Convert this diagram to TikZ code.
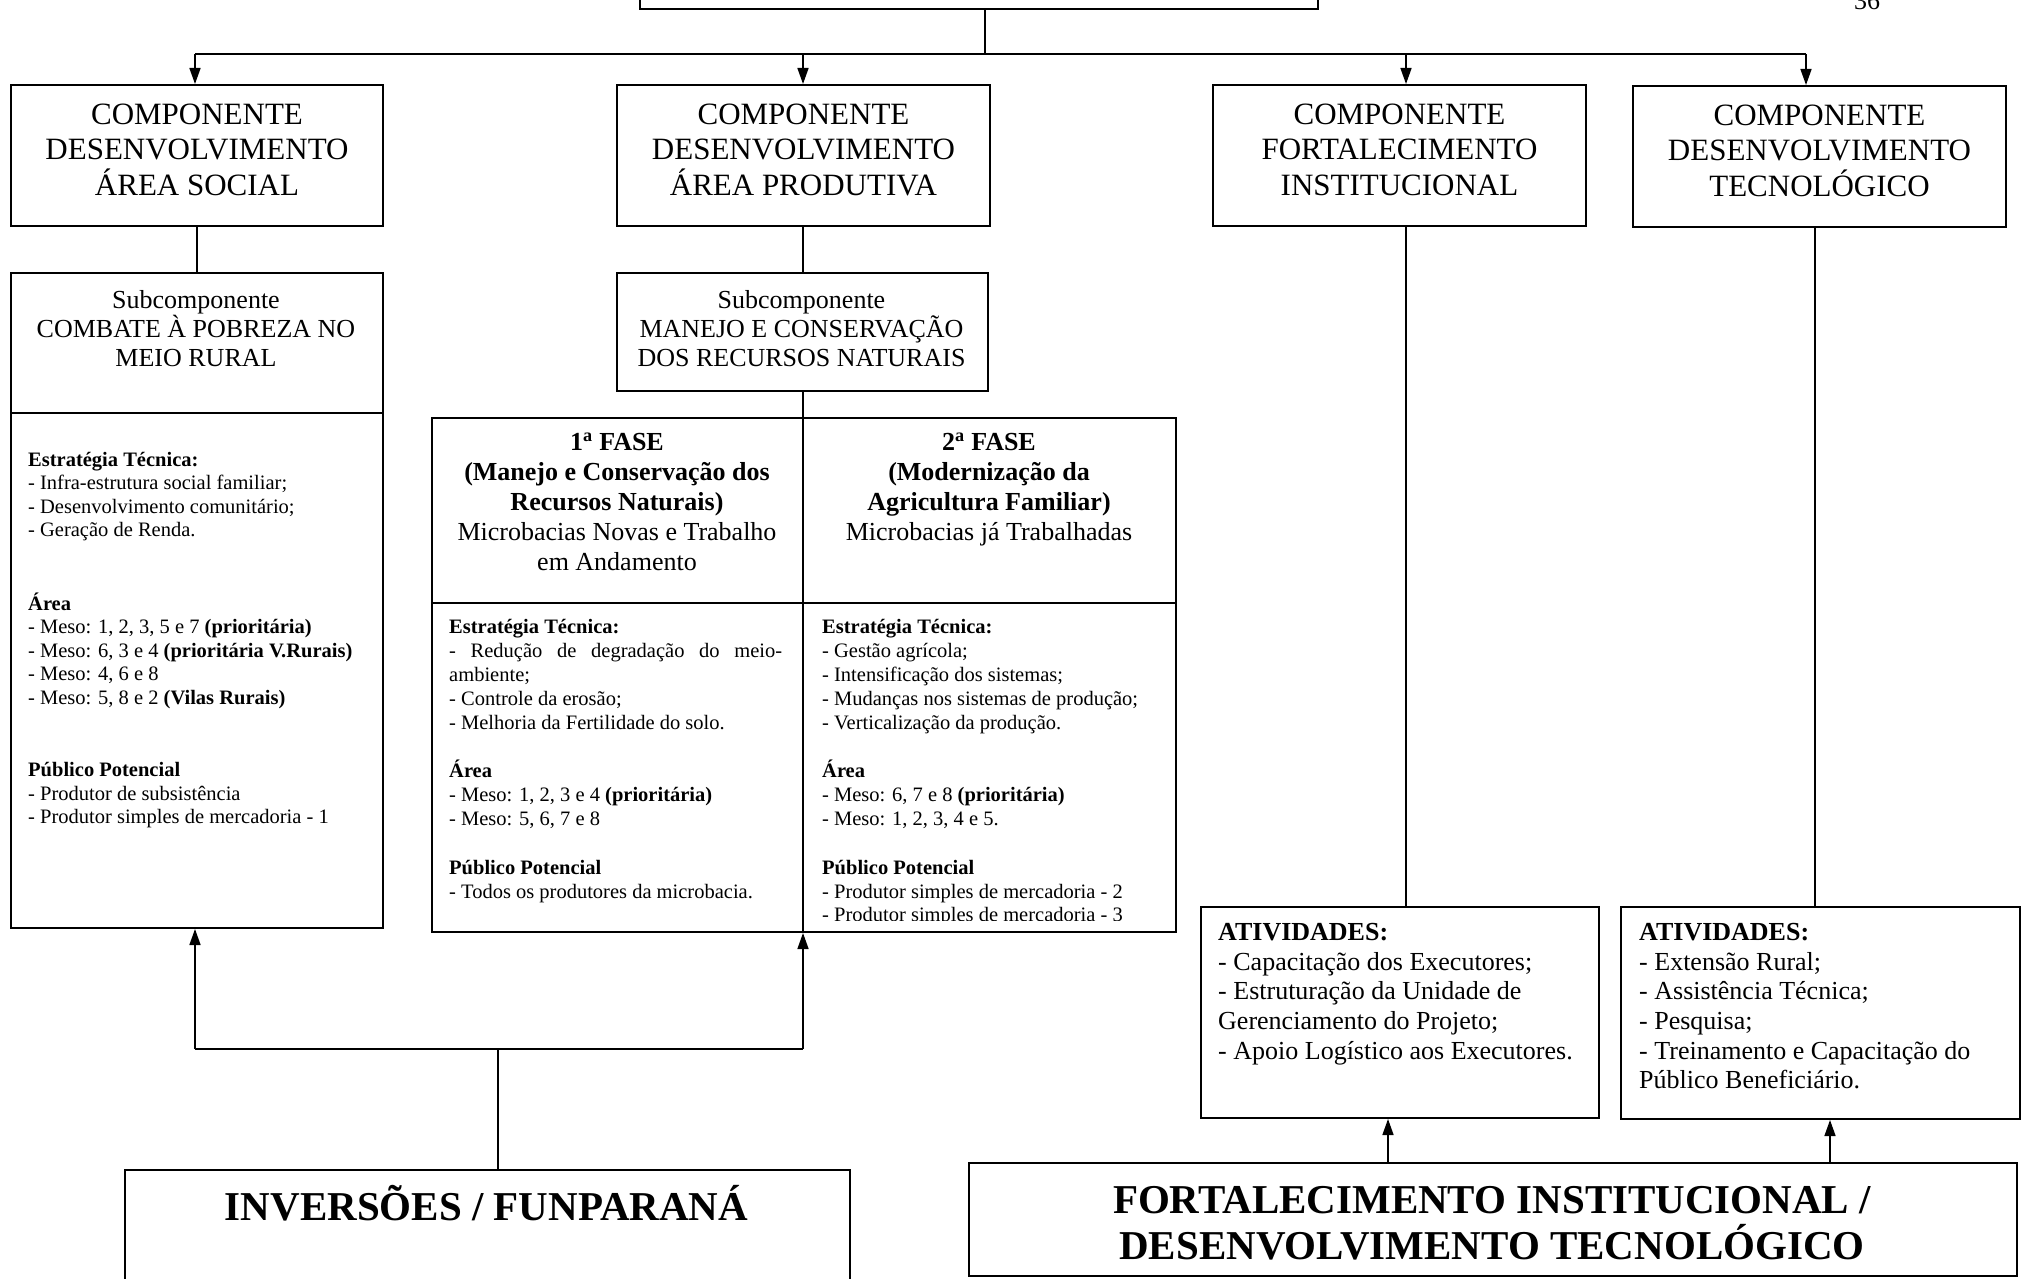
\documentclass[tikz,border=0pt]{standalone}
\usepackage{fontspec}
\setmainfont{Liberation Serif}
\usetikzlibrary{arrows.meta}
\newcommand{\fcomp}{\fontsize{31}{35.5}\selectfont}
\newcommand{\fsubc}{\fontsize{26}{29}\selectfont}
\newcommand{\fsmall}{\fontsize{20.5}{23.5}\selectfont}
\newcommand{\fsmallb}{\fontsize{20.5}{23.9}\selectfont}
\newcommand{\fphase}{\fontsize{26}{30}\selectfont}
\newcommand{\fativ}{\fontsize{26}{29.7}\selectfont}
\newcommand{\fbig}{\fontsize{41}{46.6}\selectfont\bfseries}
\tikzset{
  box/.style={draw, line width=2pt, inner sep=0pt, anchor=north west},
  conn/.style={draw, line width=1.5pt},
  arr/.style={conn, -{Triangle[width=11pt,length=16pt]}},
  txt/.style={inner sep=0pt},
}
\begin{document}
\begin{tikzpicture}[x=1pt,y=-1pt]
\useasboundingbox (0,0) rectangle (2024,1279);
% boxes
\node[box, minimum width=678pt, minimum height=48pt] (top) at (639,-40) {};
\node[box, minimum width=372pt, minimum height=141pt] (c1) at (10,84) {};
\node[box, minimum width=373pt, minimum height=141pt] (c2) at (616,84) {};
\node[box, minimum width=373pt, minimum height=141pt] (c3) at (1212,84) {};
\node[box, minimum width=373pt, minimum height=141pt] (c4) at (1632,85) {};
\node[box, minimum width=372pt, minimum height=655pt] (s1) at (10,272) {};
\node[box, minimum width=371pt, minimum height=118pt] (s2) at (616,272) {};
\node[box, minimum width=744pt, minimum height=514pt] (ph) at (431,417) {};
\node[box, minimum width=398pt, minimum height=211pt] (a1) at (1200,906) {};
\node[box, minimum width=399pt, minimum height=212pt] (a2) at (1620,906) {};
\node[box, minimum width=725pt, minimum height=200pt] (inv) at (124,1169) {};
\node[box, minimum width=1048pt, minimum height=113pt] (fi) at (968,1162) {};
% dividers
\coordinate (pv) at (803,0);
\coordinate (h1) at (0,413);
\coordinate (h2) at (0,603);
\draw[line width=2pt] (s1.west |- h1) -- (s1.east |- h1);
\draw[line width=2pt] (ph.west |- h2) -- (ph.east |- h2);
\draw[line width=2pt] (pv |- ph.north) -- (pv |- ph.south);
% top connectors
\coordinate (bus) at (985,54);
\coordinate (k1) at (195,54);
\coordinate (k2) at (803,54);
\coordinate (k3) at (1406,54);
\coordinate (k4) at (1806,54);
\draw[conn] (top.south -| bus) -- (bus);
\draw[conn] (k1) -- (k4);
\draw[arr] (k1) -- (k1 |- c1.north);
\draw[arr] (k2) -- (k2 |- c2.north);
\draw[arr] (k3) -- (k3 |- c3.north);
\draw[arr] (k4) -- (k4 |- c4.north);
% down lines
\draw[conn] (c1.south) -- (c1.south |- s1.north);
\draw[conn] (pv |- c2.south) -- (pv |- s2.north);
\draw[conn] (pv |- s2.south) -- (pv |- ph.north);
\coordinate (v3) at (1406,0);
\coordinate (v4) at (1815,0);
\draw[conn] (v3 |- c3.south) -- (v3 |- a1.north);
\draw[conn] (v4 |- c4.south) -- (v4 |- a2.north);
% bottom connectors
\coordinate (jL) at (498,1049);
\draw[conn] (inv.north -| jL) -- (jL);
\draw[conn] (jL -| k1) -- (jL -| pv);
\draw[arr] (jL -| k1) -- (k1 |- s1.south);
\draw[arr] (jL -| pv) -- (pv |- ph.south);
\coordinate (u1) at (1388,0);
\coordinate (u2) at (1830,0);
\draw[arr] (u1 |- fi.north) -- (u1 |- a1.south);
\draw[arr] (u2 |- fi.north) -- (u2 |- a2.south);
% page number
\node[txt, font=\fsubc, anchor=base] (pg) at (1867,10) {36};
% component texts
\node[txt, font=\fcomp, align=center] (c1t) at ([yshift=6pt]c1.center) {COMPONENTE\\DESENVOLVIMENTO\\ÁREA SOCIAL};
\node[txt, font=\fcomp, align=center] (c2t) at ([yshift=6pt]c2.center) {COMPONENTE\\DESENVOLVIMENTO\\ÁREA PRODUTIVA};
\node[txt, font=\fcomp, align=center] (c3t) at ([yshift=6pt]c3.center) {COMPONENTE\\FORTALECIMENTO\\INSTITUCIONAL};
\node[txt, font=\fcomp, align=center] (c4t) at ([yshift=6pt]c4.center) {COMPONENTE\\DESENVOLVIMENTO\\TECNOLÓGICO};
% subcomponent texts
\node[txt, font=\fsubc, align=center, anchor=north] (s1t) at (196,290) {Subcomponente\\COMBATE À POBREZA NO\\MEIO RURAL};
\node[txt, font=\fsubc, align=center, anchor=north] (s2t) at (801.5,290) {Subcomponente\\MANEJO E CONSERVAÇÃO\\DOS RECURSOS NATURAIS};
\node[txt, font=\fsmall, align=left, anchor=north west] (s1b) at (28,452) {\textbf{Estratégia Técnica:}\\
- Infra-estrutura social familiar;\\
- Desenvolvimento comunitário;\\
- Geração de Renda.\\[50pt]
\textbf{Área}\\
- Meso: 1, 2, 3, 5 e 7 \textbf{(prioritária)}\\
- Meso: 6, 3 e 4 \textbf{(prioritária V.Rurais)}\\
- Meso: 4, 6 e 8\\
- Meso: 5, 8 e 2 \textbf{(Vilas Rurais)}\\[49pt]
\textbf{Público Potencial}\\
- Produtor de subsistência\\
- Produtor simples de mercadoria - 1};
% phase headers
\node[txt, font=\fphase, align=center, anchor=north] (p1t) at (617,433) {\textbf{1\textsuperscript{a} FASE}\\
\textbf{(Manejo e Conservação dos}\\
\textbf{Recursos Naturais)}\\
Microbacias Novas e Trabalho\\
em Andamento};
\node[txt, font=\fphase, align=center, anchor=north] (p2t) at (989,433) {\textbf{2\textsuperscript{a} FASE}\\
\textbf{(Modernização da}\\
\textbf{Agricultura Familiar)}\\
Microbacias já Trabalhadas};
% phase bodies
\node[txt, font=\fsmallb, align=left, anchor=north west] (p1b) at (449,619) {\textbf{Estratégia Técnica:}\\
\makebox[333pt][s]{- Redução de degradação do meio-}\\
ambiente;\\
- Controle da erosão;\\
- Melhoria da Fertilidade do solo.\\[24.5pt]
\textbf{Área}\\
- Meso: 1, 2, 3 e 4 \textbf{(prioritária)}\\
- Meso: 5, 6, 7 e 8\\[25pt]
\textbf{Público Potencial}\\
- Todos os produtores da microbacia.};
\begin{scope}
\clip (805,605) rectangle (1173,920);
\node[txt, font=\fsmallb, align=left, anchor=north west] (p2b) at (822,619) {\textbf{Estratégia Técnica:}\\
- Gestão agrícola;\\
- Intensificação dos sistemas;\\
- Mudanças nos sistemas de produção;\\
- Verticalização da produção.\\[24.5pt]
\textbf{Área}\\
- Meso: 6, 7 e 8 \textbf{(prioritária)}\\
- Meso: 1, 2, 3, 4 e 5.\\[25pt]
\textbf{Público Potencial}\\
- Produtor simples de mercadoria - 2\\
- Produtor simples de mercadoria - 3};
\end{scope}
% activities
\node[txt, font=\fativ, align=left, anchor=north west] (a1t) at (1218,923) {\textbf{ATIVIDADES:}\\
- Capacitação dos Executores;\\
- Estruturação da Unidade de\\
Gerenciamento do Projeto;\\
- Apoio Logístico aos Executores.};
\node[txt, font=\fativ, align=left, anchor=north west] (a2t) at (1639,923) {\textbf{ATIVIDADES:}\\
- Extensão Rural;\\
- Assistência Técnica;\\
- Pesquisa;\\
- Treinamento e Capacitação do\\
Público Beneficiário.};
% bottom boxes text
\node[txt, font=\fbig, anchor=base] (invt) at (486.5,1220.6) {INVERSÕES / FUNPARANÁ};
\node[txt, font=\fbig, align=center, anchor=north] (fit) at (1492,1186) {FORTALECIMENTO INSTITUCIONAL /\\DESENVOLVIMENTO TECNOLÓGICO};
\end{tikzpicture}
\end{document}
